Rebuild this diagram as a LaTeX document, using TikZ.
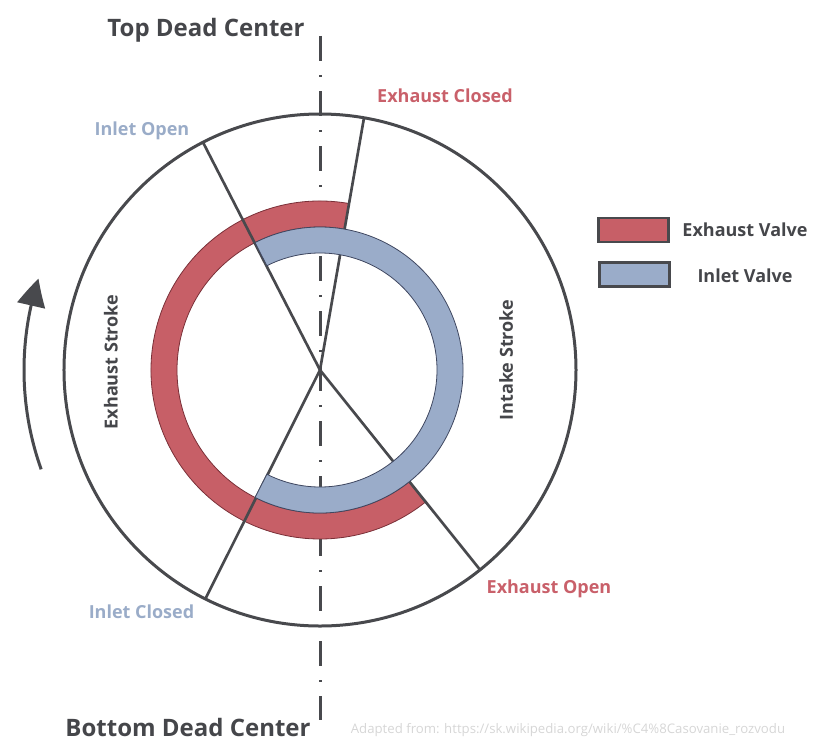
\documentclass[tikz,border=0pt]{standalone}
\usepackage{fontspec}
\setmainfont{Open Sans}
\usetikzlibrary{arrows.meta,bending}
\definecolor{exred}{HTML}{C75F67}
\definecolor{exredd}{HTML}{7A3038}
\definecolor{inblue}{HTML}{9AACC9}
\definecolor{inblued}{HTML}{3F4760}
\definecolor{linegray}{HTML}{48494D}
\definecolor{txtgray}{HTML}{45464A}
\definecolor{lblred}{HTML}{C9606A}
\definecolor{lblblue}{HTML}{9AACC8}
\definecolor{footgray}{HTML}{D6D6D6}
\tikzset{
  axisline/.style={draw=linegray, line width=2.25pt, dash pattern=on 18.75pt off 10.5pt on 1.5pt off 10.5pt},
  rim/.style={draw=linegray, line width=2.25pt},
  spoke/.style={draw=linegray, line width=2pt},
  redring/.style={fill=exred, draw=exredd, line width=0.6pt},
  bluering/.style={fill=inblue, draw=inblued, line width=0.6pt},
  title/.style={text=txtgray, font=\fontsize{18}{21}\selectfont\bfseries, inner sep=0pt, anchor=base},
  lbl/.style={font=\fontsize{13.5}{16}\selectfont\bfseries, inner sep=0pt, anchor=base},
  stroke/.style={text=txtgray, font=\fontsize{13.5}{16}\selectfont\bfseries, inner sep=0pt, rotate=90},
  legbox/.style={draw=linegray, line width=2pt, minimum width=52.5pt, minimum height=18pt, inner sep=0pt},
  foot/.style={text=footgray, font=\fontsize{9.9}{11}\selectfont, inner sep=0pt, anchor=base},
  turn/.style={draw=linegray, line width=2.25pt, -{Triangle[length=21pt, width=21pt, bend]}}
}
\begin{document}
\begin{tikzpicture}[x=0.75pt, y=0.75pt]
\useasboundingbox (-320,-377) rectangle (496,370);
% axis
\coordinate (tdc) at (0,334);
\coordinate (bdc) at (0,-350);
\draw[axisline] (tdc) -- (bdc);
% outer circle
\coordinate (O) at (0,0);
\draw[rim] (O) circle[radius=256];
% exhaust valve ring
\fill[redring] (80.1:169) arc[start angle=80.1, end angle=308.7, radius=169] -- (308.7:143) arc[start angle=308.7, end angle=80.1, radius=143] -- cycle;
% spokes
\coordinate (ec) at (80.1:256);
\coordinate (io) at (117.2:256);
\coordinate (ic) at (243.4:256);
\coordinate (eo) at (-51.3:256);
\draw[spoke] (O) -- (ec);
\draw[spoke] (O) -- (io);
\draw[spoke] (O) -- (ic);
\draw[spoke] (O) -- (eo);
% inlet valve ring
\fill[bluering] (-117:143) arc[start angle=-117, end angle=117, radius=143] -- (117:117) arc[start angle=117, end angle=-117, radius=117] -- cycle;
% labels
\node[title] (ttop) at (-114,334) {Top Dead Center};
\node[title] (tbot) at (-132,-366) {Bottom Dead Center};
\node[lbl, text=lblred] (lec) at (125,268) {Exhaust Closed};
\node[lbl, text=lblblue] (lio) at (-178,235) {Inlet Open};
\node[lbl, text=lblred] (leo) at (229,-223) {Exhaust Open};
\node[lbl, text=lblblue] (lic) at (-178.5,-248) {Inlet Closed};
\node[stroke] (sex) at (-209,8) {Exhaust Stroke};
\node[stroke] (sin) at (186,10) {Intake Stroke};
% legend
\node[legbox, fill=exred] (kred) at (313.5,140) {};
\node[legbox, fill=inblue] (kblue) at (314.5,95.5) {};
\node[lbl, text=txtgray] (kredt) at (425,134) {Exhaust Valve};
\node[lbl, text=txtgray] (kbluet) at (425,88) {Inlet Valve};
% rotation arrow
\coordinate (rs) at (199.6:296);
\draw[turn] (rs) arc[start angle=199.6, end angle=162, radius=296];
% footer
\node[foot] (src) at (248,-363) {Adapted from: https://sk.wikipedia.org/wiki/\%C4\%8Casovanie\_rozvodu};
\end{tikzpicture}
\end{document}
